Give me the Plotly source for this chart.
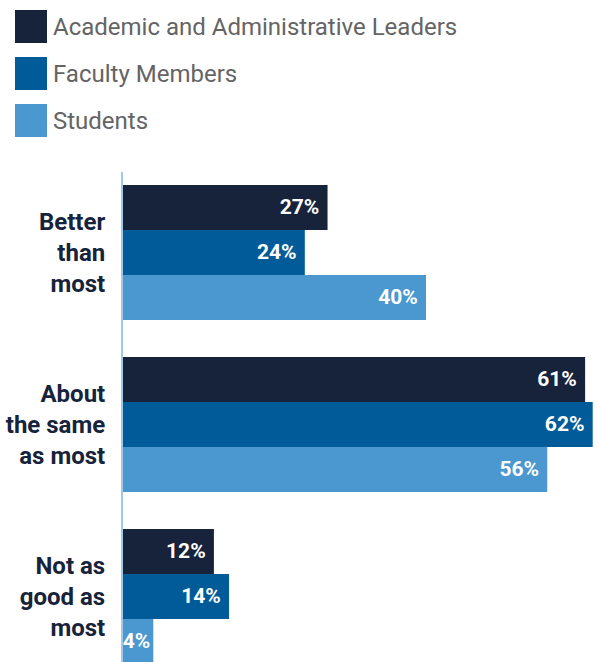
import plotly.graph_objects as go

# Survey responses, percent of each group
categories = ["Better<br>than<br>most", "About<br>the same<br>as most", "Not as<br>good as<br>most"]
series_names = ["Academic and Administrative Leaders", "Faculty Members", "Students"]
leaders = [27, 61, 12]
faculty = [24, 62, 14]
students = [40, 56, 4]
colors = ["#16233A", "#015B98", "#4A98CF"]

W, H = 598, 662
M_L, M_R, M_T, M_B = 123, 0, 172, 0
PLOT_W = W - M_L - M_R
PLOT_H = H - M_T - M_B


def px_x(px):
    return (px - M_L) / PLOT_W


def px_y(py):
    return (H - M_B - py) / PLOT_H


def label(v):
    # a little extra room before the bar end, unless the bar is too short
    return f"{v}%\u00a0" if v >= 10 else f"{v}%"


fig = go.Figure()
for name, vals, col in zip(series_names, [leaders, faculty, students], colors):
    fig.add_trace(go.Bar(
        name=name,
        y=categories,
        x=vals,
        orientation="h",
        marker=dict(color=col, line=dict(width=0)),
        text=[label(v) for v in vals],
        textposition="inside",
        insidetextanchor="end",
        textangle=0,
        constraintext="none",
        textfont=dict(family="Roboto", size=21, color="white", weight="bold"),
        showlegend=False,
        hoverinfo="skip",
    ))

# Custom legend with large square swatches
shapes = []
annotations = []
for i, (name, col) in enumerate(zip(series_names, colors)):
    top = 10 + i * 47
    shapes.append(dict(
        type="rect", xref="paper", yref="paper",
        x0=px_x(15), x1=px_x(47), y0=px_y(top + 33), y1=px_y(top),
        fillcolor=col, line=dict(width=0),
    ))
    annotations.append(dict(
        xref="paper", yref="paper", x=px_x(51), y=px_y(top + 17),
        xanchor="left", yanchor="middle", showarrow=False, text=name,
        font=dict(family="Roboto", size=24, color="#646464"),
    ))

fig.update_layout(
    width=W, height=H,
    margin=dict(l=M_L, r=M_R, t=M_T, b=M_B, pad=0),
    paper_bgcolor="white", plot_bgcolor="white",
    barmode="group", bargap=0.215, bargroupgap=0,
    shapes=shapes, annotations=annotations,
    xaxis=dict(range=[0, 62.7], visible=False, fixedrange=True),
    yaxis=dict(
        range=[2.381, -0.468],
        showline=True, linecolor="#A3C7E6", linewidth=2,
        showgrid=False, zeroline=False, ticks="",
        ticklabelstandoff=11,
        tickfont=dict(family="Roboto", size=24, color="#16233A", weight="bold"),
        fixedrange=True,
    ),
)

fig.write_html("out.html")
